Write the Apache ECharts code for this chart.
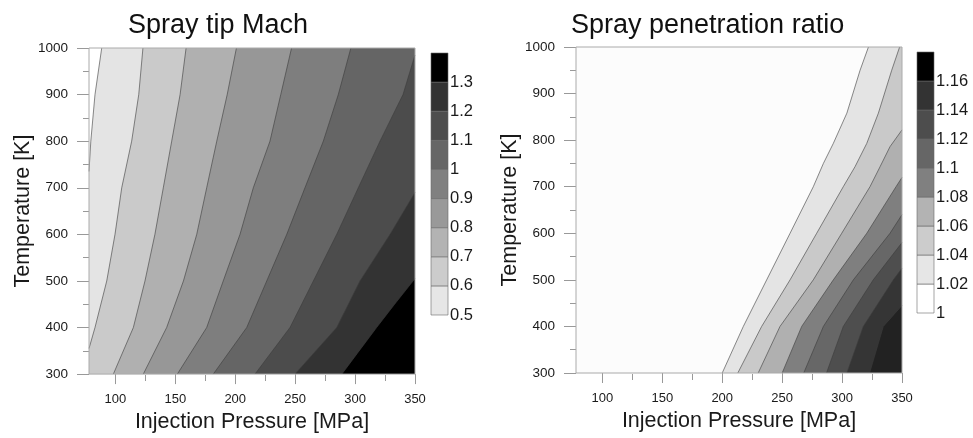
<!DOCTYPE html>
<html style="height: 100%">
<head>
    <meta charset="utf-8">
</head>
<body style="height: 100%; margin: 0; background: #fff">
<div id="main" style="width: 973px; height: 438px"></div>
<script src="https://cdn.jsdelivr.net/npm/echarts@6.0.0/dist/echarts.min.js"></script>
<script type="text/javascript">
    // 坐标范围
    var pressRange = [78, 350];
    var tempRange = [300, 1000];
    var pressTicks = [100, 150, 200, 250, 300, 350];
    var pressMinor = [125, 175, 225, 275, 325];

    // 左图：Spray tip Mach 等值线 [压力, 温度]，从上往下
    var machLevels = [0.5, 0.6, 0.7, 0.8, 0.9, 1.0, 1.1, 1.2, 1.3];
    var machColors = ['#e4e4e4', '#cacaca', '#b0b0b0', '#979797', '#7e7e7e', '#656565', '#4c4c4c', '#333333', '#000000'];
    var machLines = [
        [[88.6, 1000], [83, 900], [79.5, 800], [78, 735]],
        [[123, 1000], [119.5, 900], [113.6, 800], [105.3, 700], [99.7, 600], [92.8, 500], [83, 400], [78, 355]],
        [[159, 1000], [154, 900], [147, 800], [140, 700], [133, 600], [124.7, 500], [115, 400], [98.3, 300]],
        [[201, 1000], [193.3, 900], [184.6, 800], [176.2, 700], [167.9, 600], [156.8, 500], [142.8, 400], [123.3, 300]],
        [[247, 1000], [238, 900], [229, 800], [215.1, 700], [204, 600], [190, 500], [176.2, 400], [151.7, 300]],
        [[296.5, 1000], [286, 900], [273.5, 800], [258.2, 700], [243, 600], [226.3, 500], [209.6, 400], [181.7, 300]],
        [[350, 985], [340, 900], [320.8, 800], [302.7, 700], [284.7, 600], [265.2, 500], [245.7, 400], [216.5, 300]],
        [[350, 690], [329.2, 600], [304.1, 500], [284.7, 400], [249.9, 300]],
        [[350, 505], [333, 450], [318, 400], [302, 345], [289, 300]]
    ];
    var machBar = [0.5, 0.6, 0.7, 0.8, 0.9, 1.0, 1.1, 1.2, 1.3, 1.4];
    var machBarColors = ['#e6e6e6', '#cccccc', '#b3b3b3', '#999999', '#808080', '#666666', '#4d4d4d', '#333333', '#000000'];
    var machTicks = [0.5, 0.6, 0.7, 0.8, 0.9, 1, 1.1, 1.2, 1.3];

    // 右图：Spray penetration ratio 等值线
    var ratioLevels = [1.02, 1.04, 1.06, 1.08, 1.10, 1.12, 1.14, 1.16];
    var ratioBase = '#fcfcfc';
    var ratioColors = ['#e4e4e4', '#c9c9c9', '#b0b0b0', '#7f7f7f', '#676767', '#4e4e4e', '#353535', '#222222'];
    var ratioLines = [
        [[322, 1000], [315, 950], [304, 858], [292.7, 793], [284.4, 750], [276, 700], [256.6, 600], [237.1, 500], [217.6, 400], [200, 300]],
        [[348, 1000], [341.4, 950], [330.3, 858], [320.6, 793], [310.8, 743], [301, 700], [278.8, 600], [256.6, 500], [232.9, 400], [213, 300]],
        [[350, 822], [340, 786], [331.7, 743], [323.3, 700], [299.7, 600], [276, 500], [248.2, 400], [230, 300]],
        [[350, 720], [345, 700], [320.6, 600], [292.7, 500], [266.3, 400], [250, 300]],
        [[350, 640], [340, 600], [309.4, 500], [284.4, 400], [268, 300]],
        [[350, 580], [326, 500], [301, 400], [287, 300]],
        [[350, 525], [342.8, 500], [317.7, 400], [304, 300]],
        [[350, 445], [334.4, 400], [323, 300]]
    ];
    var ratioBar = [1.0, 1.02, 1.04, 1.06, 1.08, 1.10, 1.12, 1.14, 1.16, 1.18];
    var ratioBarColors = ['#ffffff', '#e6e6e6', '#cccccc', '#b3b3b3', '#808080', '#666666', '#4d4d4d', '#333333', '#000000'];
    var ratioTicks = [1, 1.02, 1.04, 1.06, 1.08, 1.1, 1.12, 1.14, 1.16];

    // 把等值线沿边框(逆时针)闭合成"大于该值"的区域
    function closeRing(line) {
        var x0 = pressRange[0], x1 = pressRange[1], y0 = tempRange[0], y1 = tempRange[1];
        var corners = [[x0, y1], [x0, y0], [x1, y0], [x1, y1]];
        function edgePos(p) {
            if (p[0] <= x0) return (y1 - p[1]) / (y1 - y0);
            if (p[1] <= y0) return 1 + (p[0] - x0) / (x1 - x0);
            if (p[0] >= x1) return 2 + (p[1] - y0) / (y1 - y0);
            return 3 + (x1 - p[0]) / (x1 - x0);
        }
        var s0 = edgePos(line[line.length - 1]);
        var s1 = edgePos(line[0]);
        if (s1 <= s0) s1 += 4;
        var ring = line.slice();
        for (var k = Math.ceil(s0); k < s1; k++) ring.push(corners[k % 4]);
        return ring;
    }
    var fullRect = [[pressRange[0], tempRange[1]], [pressRange[0], tempRange[0]], [pressRange[1], tempRange[0]], [pressRange[1], tempRange[1]]];

    var machRings = machLines.map(closeRing);
    var ratioRings = [fullRect].concat(ratioLines.map(closeRing));
    var ratioFills = [ratioBase].concat(ratioColors);

    function fillSeries(xi, yi, rings, colors) {
        return {
            type: 'custom', xAxisIndex: xi, yAxisIndex: yi, clip: true, silent: true, z: 2,
            data: rings.map(function (r, i) { return [r[0][0], r[0][1], i]; }),
            renderItem: function (params, api) {
                var i = params.dataIndex;
                return {
                    type: 'polygon',
                    shape: { points: rings[i].map(function (p) { return api.coord(p); }) },
                    style: { fill: colors[i] }
                };
            }
        };
    }
    function lineSeries(xi, yi, lines) {
        return lines.map(function (l) {
            return {
                type: 'line', xAxisIndex: xi, yAxisIndex: yi, data: l, symbol: 'none', silent: true, z: 3,
                clip: true, lineStyle: { color: '#3c3c3c', width: 0.6 }
            };
        });
    }
    function barSeries(xi, yi, bounds, colors) {
        return {
            type: 'custom', xAxisIndex: xi, yAxisIndex: yi, silent: true,
            data: colors.map(function (c, i) { return [0, bounds[i], bounds[i + 1]]; }),
            renderItem: function (params, api) {
                var a = api.coord([0, api.value(2)]);
                var b = api.coord([1, api.value(1)]);
                return {
                    type: 'rect',
                    shape: { x: a[0], y: a[1], width: b[0] - a[0], height: b[1] - a[1] },
                    style: { fill: colors[params.dataIndex], stroke: '#6a6a6a', lineWidth: 0.6 }
                };
            }
        };
    }

    var tickColor = '#999';
    var labelColor = '#1a1a1a';
    function pressAxis(gi, nameText) {
        return [{
            gridIndex: gi, type: 'value', min: pressRange[0], max: pressRange[1], position: 'bottom',
            name: nameText, nameLocation: 'middle', nameGap: 35,
            nameTextStyle: { fontSize: 21.5, color: labelColor },
            axisLine: { show: false },
            axisTick: { show: true, length: 10, customValues: pressTicks, lineStyle: { color: tickColor } },
            axisLabel: { customValues: pressTicks, margin: 19, fontSize: 13, color: labelColor },
            splitLine: { show: false }
        }, {
            // 次刻度：顶部轴挪到底边，刻度朝下
            gridIndex: gi, type: 'value', min: pressRange[0], max: pressRange[1], position: 'top', offset: -327,
            z: 11,
            axisLine: { show: false },
            axisTick: { show: true, inside: true, length: 6, customValues: pressMinor, lineStyle: { color: tickColor } },
            axisLabel: { show: false },
            splitLine: { show: false }
        }];
    }
    function tempAxis(gi) {
        return {
            gridIndex: gi, type: 'value', min: tempRange[0], max: tempRange[1], interval: 100,
            name: 'Temperature [K]', nameLocation: 'middle', nameGap: 55,
            nameTextStyle: { fontSize: 21.5, color: labelColor },
            axisLine: { show: false },
            axisTick: { show: true, length: 12, lineStyle: { color: tickColor } },
            minorTick: { show: true, splitNumber: 2, length: 6, lineStyle: { color: tickColor } },
            axisLabel: { margin: 21, fontSize: 13.5, color: labelColor, formatter: function (v) { return String(v); } },
            splitLine: { show: false }
        };
    }
    function barAxes(gi, lo, hi, ticks) {
        return {
            x: { gridIndex: gi, type: 'value', min: 0, max: 1, show: false },
            y: {
                gridIndex: gi, type: 'value', min: lo, max: hi, position: 'right',
                axisLine: { show: false }, axisTick: { show: false }, splitLine: { show: false },
                axisLabel: { customValues: ticks, margin: 2, fontSize: 16.5, color: labelColor }
            }
        };
    }

    var myChart = echarts.init(document.getElementById('main'), null, { renderer: 'canvas' });
    var b0 = barAxes(1, 0.5, 1.4, machTicks);
    var b1 = barAxes(3, 1.0, 1.18, ratioTicks);
    var option = {
        animation: false,
        backgroundColor: '#fff',
        textStyle: { fontFamily: 'Liberation Sans, Arial, sans-serif' },
        title: [
            { text: 'Spray tip Mach', left: 123, top: 7, textStyle: { fontSize: 27, fontWeight: 'normal', color: '#111' } },
            { text: 'Spray penetration ratio', left: 566, top: 7, textStyle: { fontSize: 27, fontWeight: 'normal', color: '#111' } }
        ],
        grid: [
            { left: 89, top: 48, width: 326, height: 327, show: true, borderColor: '#aaa', borderWidth: 1, backgroundColor: 'transparent', z: 10 },
            { left: 431, top: 53, width: 17, height: 262 },
            { left: 576, top: 47, width: 326, height: 326, show: true, borderColor: '#aaa', borderWidth: 1, backgroundColor: 'transparent', z: 10 },
            { left: 917, top: 52, width: 17, height: 261 }
        ],
        xAxis: pressAxis(0, 'Injection Pressure [MPa]').concat([b0.x]).concat(pressAxis(2, 'Injection Pressure [MPa]')).concat([b1.x]),
        yAxis: [tempAxis(0), b0.y, tempAxis(2), b1.y],
        series: [fillSeries(0, 0, machRings, machColors)]
            .concat(lineSeries(0, 0, machLines))
            .concat([barSeries(2, 1, machBar, machBarColors)])
            .concat([fillSeries(3, 2, ratioRings, ratioFills)])
            .concat(lineSeries(3, 2, ratioLines))
            .concat([barSeries(5, 3, ratioBar, ratioBarColors)])
    };
    myChart.setOption(option);
    window.addEventListener('resize', function () {
        myChart.resize();
    });
</script>
</body>
</html>
